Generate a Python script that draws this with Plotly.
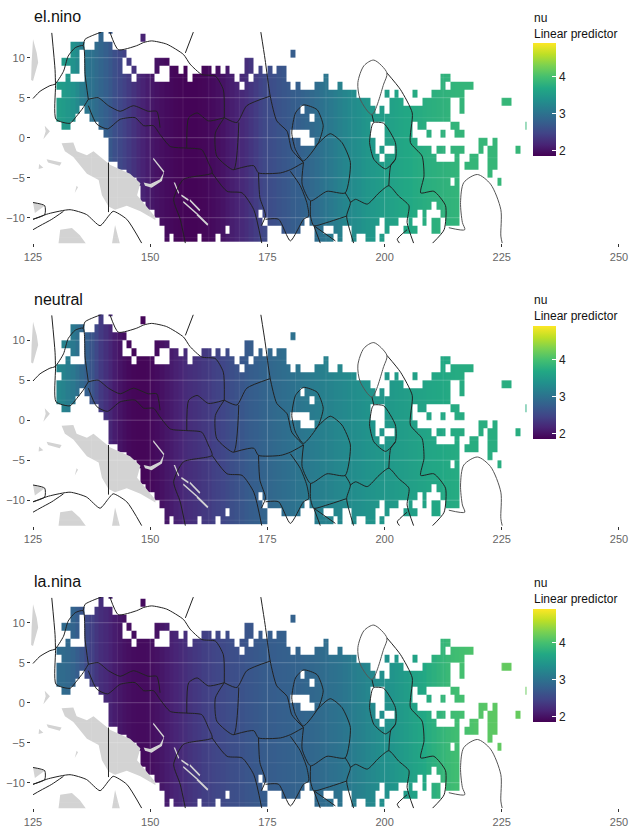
import plotly.graph_objects as go

PANEL_NAMES = ["el.nino", "neutral", "la.nina"]
X_TICKS = [125, 150, 175, 200, 225, 250]
Y_TICKS = [-10, -5, 0, 5, 10]
BAR_TICKS = [2, 3, 4]
NU_MIN, NU_MAX = 1.86, 4.92

# nu by longitude, 130..230
EL_NINO = [3.55,3.52,3.47,3.40,3.30,3.15,3.06,3.00,2.93,2.85,2.78,2.70,2.60,2.52,2.45,2.38,2.30,2.22,2.16,2.10,
           2.05,2.01,1.98,1.95,1.93,1.91,1.90,1.89,1.89,1.89,1.90,1.91,1.93,1.95,1.98,2.02,2.07,2.11,2.16,2.21,
           2.26,2.33,2.40,2.47,2.53,2.57,2.60,2.64,2.68,2.71,2.75,2.78,2.82,2.85,2.90,2.95,3.00,3.05,3.10,3.15,
           3.20,3.24,3.29,3.33,3.37,3.41,3.45,3.48,3.51,3.54,3.57,3.60,3.63,3.65,3.68,3.70,3.72,3.74,3.76,3.78,
           3.79,3.80,3.82,3.83,3.84,3.85,3.86,3.86,3.87,3.87,3.88,3.88,3.88,3.88,3.88,3.88,3.88,3.88,3.88,3.88,3.88]
NEUTRAL = [3.25,3.22,3.15,3.08,2.98,2.88,2.78,2.65,2.52,2.38,2.28,2.19,2.10,2.03,1.97,1.93,1.91,1.90,1.90,1.91,
           1.93,1.96,2.00,2.05,2.09,2.14,2.18,2.23,2.26,2.29,2.32,2.36,2.39,2.43,2.46,2.50,2.54,2.59,2.63,2.68,
           2.72,2.75,2.78,2.81,2.84,2.87,2.90,2.92,2.95,2.97,3.00,3.03,3.06,3.09,3.12,3.15,3.17,3.20,3.22,3.25,
           3.27,3.29,3.32,3.34,3.37,3.39,3.41,3.43,3.45,3.46,3.48,3.50,3.52,3.53,3.55,3.57,3.59,3.61,3.63,3.65,
           3.67,3.68,3.69,3.71,3.72,3.73,3.74,3.74,3.75,3.75,3.76,3.76,3.76,3.76,3.76,3.76,3.76,3.76,3.76,3.76,3.76]
LA_NINA = [2.93,2.92,2.89,2.84,2.76,2.66,2.53,2.43,2.34,2.26,2.21,2.16,2.10,2.05,2.01,1.98,1.96,1.95,1.95,1.96,
           1.98,2.01,2.05,2.10,2.14,2.18,2.22,2.26,2.31,2.35,2.38,2.42,2.45,2.48,2.51,2.53,2.56,2.58,2.60,2.63,
           2.66,2.68,2.70,2.72,2.74,2.75,2.76,2.78,2.79,2.80,2.81,2.83,2.84,2.86,2.88,2.90,2.93,2.95,2.98,3.00,
           3.02,3.06,3.10,3.14,3.18,3.21,3.25,3.29,3.33,3.37,3.39,3.43,3.47,3.50,3.54,3.57,3.62,3.66,3.70,3.75,
           3.79,3.83,3.87,3.91,3.95,3.97,4.00,4.02,4.05,4.07,4.09,4.11,4.13,4.14,4.16,4.17,4.18,4.19,4.19,4.20,4.20]
PANEL_VALUES = [EL_NINO, NEUTRAL, LA_NINA]

# occupied 1-degree cells: latitude row -> inclusive longitude spans
CELLS = {
    13: [(139,139),(141,141)],
    12: [(139,139),(148,148)],
    11: [(133,135),(138,141)],
    10: [(133,134),(136,144),(180,180)],
    9: [(131,134),(136,143),(145,145),(151,153),(170,171)],
    8: [(133,134),(136,143),(146,146),(151,151),(154,155),(157,157),(161,162),(164,164),(166,166),(170,171),(173,173),(175,175),(177,178)],
    7: [(132,132),(136,145),(147,150),(154,157),(159,167),(169,170),(172,178),(187,187),(212,213)],
    6: [(130,168),(170,179),(181,181),(185,187),(190,190),(212,212),(214,218)],
    5: [(131,193),(200,200),(202,202),(206,206),(210,216)],
    4: [(130,196),(201,203),(208,213),(216,216),(225,226)],
    3: [(130,134),(136,181),(183,197),(199,199),(201,213),(216,216)],
    2: [(130,133),(137,183),(185,213)],
    1: [(131,132),(139,196),(200,205),(207,208),(214,215),(230,230)],
    0: [(140,179),(184,196),(200,205),(209,209),(212,212),(215,216)],
    -1: [(141,181),(185,197),(200,206),(220,221),(223,223)],
    -2: [(141,197),(199,199),(202,209),(211,212),(214,216),(220,220),(222,223),(228,228)],
    -3: [(141,198),(200,210),(215,215),(218,219),(222,223)],
    -4: [(143,215),(217,219),(222,223)],
    -5: [(145,215),(222,222)],
    -6: [(147,213),(215,215),(224,224)],
    -7: [(148,215)],
    -8: [(148,215)],
    -9: [(149,209),(211,215)],
    -10: [(151,172),(174,206),(208,208),(212,215)],
    -11: [(152,173),(175,182),(184,198),(200,202),(205,205),(208,208),(210,211),(213,215)],
    -12: [(153,165),(167,174),(178,181),(185,186),(189,190),(193,197),(200,200),(204,206),(210,211)],
    -13: [(153,153),(155,159),(161,163),(165,174),(185,188),(190,190),(193,193),(196,197),(199,199)],
}

# boundaries in degrees (lon, lat)
BOUNDARIES = [
    [(129.0,13.1),(129.7,8.5),(129.8,6.5),(129.9,2.3),(132.9,1.8),(134.3,2.7),(135.7,3.75),(136.8,4.8)],
    [(125,4.9),(126.5,5.8),(128.6,6.5),(129.7,6.7),(131.5,8.3),(132.5,10.2),(134,11.25),(135.7,11.5),(136.1,7.9),(136.8,4.8)],
    [(135.7,11.5),(136.1,12.3),(138.2,12.9),(139.6,13.2)],
    [(141.4,13.2),(143.2,11),(147.1,11.5),(148.6,11.9),(150.3,12.1),(153.5,11.7),(157.1,10.4),(158.5,9.2),(161,7.9),(163.9,7.7),(165.6,6),(165.8,2.5)],
    [(159.2,13.2),(157.5,10.6)],
    [(165.8,2.5),(168.5,1.9),(170.6,4),(175.6,5.2)],
    [(173.6,13.2),(174.5,9.8),(175.6,5.2),(177,2.1),(179.2,0.8),(180.2,-1.5),(182.7,-3.1)],
    [(136.8,4.8),(138.9,5),(141.1,4),(143.6,3.3),(146.4,4),(149.6,3.3),(151.4,3.3),(152.1,1.25)],
    [(136.8,4),(138.6,1.7),(140.9,1.1),(143.6,2.3),(146.8,2.5),(148.6,1.5),(150.7,1.5),(152.1,0.4),(154.3,-1.1),(157.8,-1.3),(161,-1.5),(162.4,-3.1),(163.2,-4.4),(157.1,-5.2),(155,-7.7),(156.4,-10.2),(157.5,-13.2)],
    [(163.2,-4.4),(166.4,-6.7),(169.6,-6.9),(172.1,-9),(173.8,-13.2)],
    [(157.8,-1.3),(158.2,2.5),(160,3.1),(162.4,2.1),(165.8,2.5)],
    [(165.8,2.5),(163.9,0.6),(164.2,-2.3),(167.8,-4),(168.9,1.9)],
    [(167.8,-4),(172.1,-3.5),(173.1,-4.4),(177.8,-4.4),(179.9,-4),(182.7,-3.1)],
    [(173.1,-4.4),(173.4,-7.5),(174.6,-9.7),(173.7,-11)],
    [(174.6,-10.2),(177.4,-10.2),(179.9,-12.9),(182.7,-10.2),(183.8,-9.8),(183.4,-8.1),(182,-6),(179.9,-4.2)],
    [(182.7,4.1),(185.6,3.5),(186.9,1.5),(185.9,-0.6),(182.7,-2.9),(181,-1.5),(180.2,0.6),(181,3.1),(182.7,4.1)],
    [(185.2,-1.1),(188.4,0.5),(190.9,-0.6),(192.7,-3.1),(191.6,-6.9),(187.7,-6.7),(184.2,-7.9),(182.4,-5.8),(182.7,-3.1)],
    [(191.6,-6.9),(192.7,-8.1),(191.9,-9.8),(193.4,-13.2)],
    [(191.9,-9.8),(187.7,-10.6),(184.9,-11),(184.2,-9.8),(184.2,-7.9)],
    [(184.9,-11),(189.5,-12.9)],
    [(184.9,-11),(186.3,-13.2)],
    [(192.7,-8.1),(193.8,-7.7),(196.3,-8.3),(198.8,-6.9),(200.9,-6),(203,-7.3),(205.2,-8.5),(204.8,-10.6),(206.2,-13.2)],
    [(200.9,-6),(201.3,-3.5),(202.3,-2.7)],
    [(197.7,1.9),(199.8,1.8),(202.3,-0.6),(202.3,-2.7),(200.2,-3.9),(197.7,-2.7),(196.8,-0.6),(197.3,1.5),(197.7,1.9)],
    [(197.3,2.9),(197.7,1.9)],
    [(200.5,8.1),(203.4,6),(205.9,3.1),(205.5,-0.6),(208,-2.3),(208.4,-4.8),(207.7,-6.9),(210.5,-6.7),(213,-8.5),(212.7,-11.5),(210.2,-13.2)],
    [(204.8,-11.5),(202.7,-12.7),(203.2,-13.2)],
    [(125,-10.2),(128.3,-9.5),(132.9,-9),(136.4,-9.6),(139.3,-11),(141.1,-9.8),(142.1,-9.2),(145,-10.2),(148.2,-13.2)],
    [(125,-11.5),(126.5,-11),(129,-10.2),(131.5,-9.2)],
    [(141.1,-3.1),(141.1,-9.3)],
    [(125,-8.1),(127.5,-8.5),(127.5,-9.6),(125,-10.2)],
]
GREY_BOUNDARIES = [
    [(197.7,9.7),(200.5,8.1),(199.8,6.7),(197.3,2.9),(194.8,4.8),(194.3,6.9),(195.6,9),(197.7,9.7)],
    [(213.7,-11.25),(217.1,-11.5),(216.6,-10.6),(216.2,-8.1),(216.9,-5.6),(219.8,-4.6),(222.6,-5.8),(224.8,-9),(224.8,-12.3),(225.1,-13.2)],
]
LAND = [
    [(131.1,-0.7),(133.6,-0.6),(134.3,-1.7),(136.5,-2.2),(137.9,-1.7),(141.5,-3.4),(145.7,-4.5),(147.9,-5.7),(147.2,-7.2),(148.9,-8.4),(151.1,-9.9),(151.1,-10.3),(147.9,-9.2),(145,-8.5),(142.5,-9),(141.1,-8.6),(139.7,-7.2),(139,-5.3),(136.5,-4.5),(133.6,-2.4),(131.8,-1.7)],
    [(148.6,-5.6),(150,-5.8),(152.1,-5.2),(153,-4.2),(152.5,-5.4),(150.3,-6.25),(148.9,-6)],
    [(155,-5.6),(155.3,-5.6),(156.2,-6.9),(156,-7)],
    [(156.7,-7.1),(158.2,-7.7),(158.1,-7.9),(156.6,-7.3)],
    [(158.5,-7.7),(160.7,-9),(160.5,-9.2),(158.4,-7.9)],
    [(157.1,-7.9),(160,-9.4),(159.9,-9.6),(157,-8.1)],
    [(160,-9.4),(162.4,-10.8),(162.2,-11),(159.9,-9.7)],
    [(150.7,-2.5),(153,-4.2),(152.9,-4.4),(150.6,-2.7)],
    [(142.5,-10.9),(143.6,-13.4),(141.8,-13.4)],
    [(130.4,-13.4),(130.8,-11.5),(133.3,-11.3),(135,-12.2),(136.5,-13.4)],
    [(125,12.3),(125.8,10.6),(126.1,9.4),(125,7.1),(124.6,7.2),(124.7,9.4)],
    [(127.5,1.5),(128.6,0.8),(127.2,-0.2),(127.7,0.8)],
    [(127.9,-2.7),(131.1,-3.1),(130.7,-3.5),(128.2,-3.1)],
    [(126.3,-3.3),(127.2,-3.75),(126.2,-3.9)],
    [(125,-8.1),(127.5,-8.5),(125.4,-9.4)],
    [(134.3,-6),(134.6,-6.2),(133.9,-6.9)],
]
GRID_LATS_MAJOR = [10, 5, 0, -5, -10]
GRID_LATS_MINOR = [7.5, 2.5, -2.5, -7.5, -12.5]
GRID_LONS_MAJOR = [150, 175, 200, 225]
GRID_LONS_MINOR = [137.5, 162.5, 187.5, 212.5, 143, 157, 169, 181, 193]

W, H = 631, 830
LEFT, RIGHT = 31, 621
PANEL_TOPS = [32.1, 314.6, 597.1]
PANEL_H = 211.2
BAR_LEFT = 533
BAR_TOPS = [43, 326, 609]
BAR_H = 113
TITLE_X = 33
TITLE_Y = [16, 299, 581]
LEGEND_Y = [25.5, 308, 591]
X_RANGE = [124.57, 250.43]
Y_RANGE = [-13.2, 13.2]

VIRIDIS = [[0, "#440154"], [0.1, "#482475"], [0.2, "#414487"], [0.3, "#355f8d"], [0.4, "#2a788e"],
           [0.5, "#21918c"], [0.6, "#22a884"], [0.7, "#44bf70"], [0.8, "#7ad151"], [0.9, "#bddf26"], [1, "#fde725"]]

lat_rows = list(range(-13, 14))
lons = list(range(130, 231))
x_edges = lons + [230.35]
y_edges = lat_rows + [14]


def grid_for(values):
    z = []
    for lat in lat_rows:
        row = [None] * len(lons)
        for a, b in CELLS.get(lat, []):
            for lon in range(a, b + 1):
                row[lon - 130] = values[lon - 130]
        z.append(row)
    return z


def joined(paths):
    xs, ys = [], []
    for p in paths:
        xs += [c[0] for c in p] + [None]
        ys += [c[1] for c in p] + [None]
    return xs, ys


fig = go.Figure()
layout = dict(width=W, height=H, margin=dict(l=0, r=0, t=0, b=0, autoexpand=False), autosize=False,
              paper_bgcolor="white", plot_bgcolor="white", showlegend=False,
              font=dict(family="Liberation Sans"))
annotations = []

for i, name in enumerate(PANEL_NAMES):
    sfx = "" if i == 0 else str(i + 1)
    xa, ya = "x" + sfx, "y" + sfx
    top = PANEL_TOPS[i]
    layout["xaxis" + sfx] = dict(domain=[LEFT / W, RIGHT / W], range=X_RANGE, anchor=ya, tickmode="array",
                                 tickvals=X_TICKS, ticks="outside", ticklen=3, tickcolor="#333333", tickwidth=1,
                                 tickfont=dict(size=11, color="#666666"), showgrid=False, zeroline=False, showline=False)
    layout["yaxis" + sfx] = dict(domain=[1 - (top + PANEL_H) / H, 1 - top / H], range=Y_RANGE, anchor=xa, tickmode="array",
                                 tickvals=Y_TICKS, ticks="outside", ticklen=3, tickcolor="#333333", tickwidth=1,
                                 tickfont=dict(size=11, color="#666666"), showgrid=False, zeroline=False, showline=False)
    fig.add_trace(go.Heatmap(
        x=x_edges, y=y_edges, z=grid_for(PANEL_VALUES[i]), xaxis=xa, yaxis=ya,
        zmin=NU_MIN, zmax=NU_MAX, colorscale=VIRIDIS, hoverongaps=False,
        colorbar=dict(x=BAR_LEFT / W, xanchor="left", xpad=0, y=1 - BAR_TOPS[i] / H, yanchor="top", ypad=0,
                      lenmode="pixels", len=BAR_H, thicknessmode="pixels", thickness=23, outlinewidth=0,
                      tickmode="array", tickvals=BAR_TICKS, ticks="inside", ticklen=4, tickcolor="white",
                      tickfont=dict(size=12, color="#222222"))))
    lx, ly = joined(LAND)
    fig.add_trace(go.Scatter(x=lx, y=ly, mode="lines", fill="toself", fillcolor="#d3d3d3",
                             line=dict(width=0, color="#d3d3d3"), xaxis=xa, yaxis=ya, hoverinfo="skip"))
    gx, gy = [], []
    for lat in GRID_LATS_MAJOR:
        gx += [130, 231, None]; gy += [lat, lat, None]
    for lon in GRID_LONS_MAJOR:
        gx += [lon, lon, None]; gy += [-13.2, 13.2, None]
    fig.add_trace(go.Scatter(x=gx, y=gy, mode="lines", line=dict(width=1, color="rgba(255,255,255,0.22)"),
                             xaxis=xa, yaxis=ya, hoverinfo="skip"))
    gx, gy = [], []
    for lat in GRID_LATS_MINOR:
        gx += [130, 231, None]; gy += [lat, lat, None]
    for lon in GRID_LONS_MINOR:
        gx += [lon, lon, None]; gy += [-13.2, 13.2, None]
    fig.add_trace(go.Scatter(x=gx, y=gy, mode="lines", line=dict(width=0.7, color="rgba(255,255,255,0.12)"),
                             xaxis=xa, yaxis=ya, hoverinfo="skip"))
    bx, by = joined(BOUNDARIES)
    fig.add_trace(go.Scatter(x=bx, y=by, mode="lines", line=dict(width=1, color="#222222", shape="spline", smoothing=0.6),
                             xaxis=xa, yaxis=ya, hoverinfo="skip"))
    bx, by = joined(GREY_BOUNDARIES)
    fig.add_trace(go.Scatter(x=bx, y=by, mode="lines", line=dict(width=1, color="#555555", shape="spline", smoothing=0.8),
                             xaxis=xa, yaxis=ya, hoverinfo="skip"))
    annotations.append(dict(text=name, x=TITLE_X / W, y=1 - TITLE_Y[i] / H, xref="paper", yref="paper", xanchor="left",
                            yanchor="middle", showarrow=False, xshift=-1, font=dict(size=16, color="#111111")))
    annotations.append(dict(text="nu<br>Linear predictor", x=BAR_LEFT / W, y=1 - LEGEND_Y[i] / H, xref="paper", yref="paper",
                            xanchor="left", yanchor="middle", align="left", showarrow=False, xshift=-1,
                            font=dict(size=12, color="#111111")))

layout["annotations"] = annotations
fig.update_layout(**layout)
# the page's default body margin would shift and clip the figure
fig.write_html("out.html", config={"displayModeBar": False},
               post_script="document.body.style.margin='0';document.documentElement.style.overflow='hidden';")
